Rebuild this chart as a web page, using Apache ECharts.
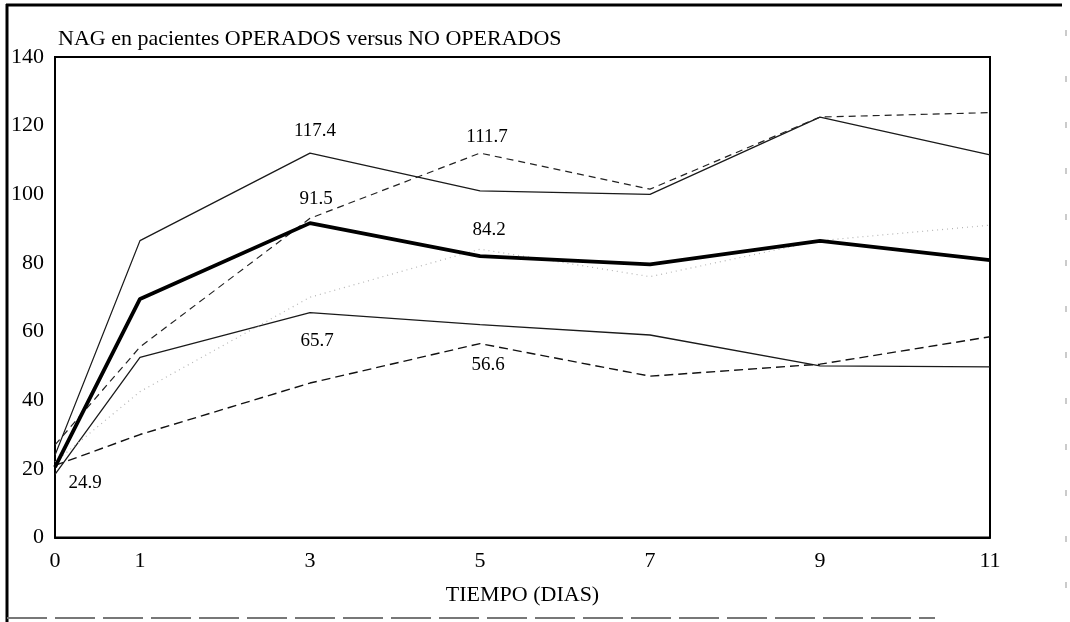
<!DOCTYPE html>
<html>
<head>
<meta charset="utf-8">
<script src="https://cdn.jsdelivr.net/npm/echarts@6/dist/echarts.min.js"></script>
<style>
html,body{margin:0;padding:0;background:#fff;}
#chart{width:1070px;height:622px;}
</style>
</head>
<body>
<div id="chart"></div>
<script>
// ---- data ----
var days = [0, 1, 3, 5, 7, 9, 11];
var xTickLabels = [0, 1, 3, 5, 7, 9, 11];
var yTickValues = [0, 20, 40, 60, 80, 100, 120, 140];
// OPERADOS
var opSup   = [24, 86.5, 112, 101, 100, 122.5, 111.5];
var opMedia = [20.5, 69.5, 91.6, 82, 79.6, 86.4, 80.8];
var opInf   = [18.4, 52.5, 65.5, 62, 59, 50, 49.7];
// NO OPERADOS
var noSup   = [27, 55.5, 93, 112, 101.5, 122.5, 123.8];
var noMedia = [22, 42.5, 70, 84, 76, 86.5, 91];
var noInf   = [21, 30, 45, 56.5, 47, 50.5, 58.5];
// annotation texts
var labelTexts = ['117.4', '111.7', '91.5', '84.2', '65.7', '56.6', '24.9'];

var titleText = 'NAG en pacientes OPERADOS versus NO OPERADOS';
var xName = 'TIEMPO (DIAS)';

// ---- chart ----
var FONT = "'Liberation Serif', 'DejaVu Serif', serif";
function pts(arr) { return days.map(function (d, i) { return [d, arr[i]]; }); }

// annotation anchors: [series array, day index, text index, offset]
var anchors = [
  [opSup, 2, 0, [5, -22]],
  [noSup, 3, 1, [7, -16]],
  [opMedia, 2, 2, [6, -24]],
  [opMedia, 3, 3, [9, -26]],
  [opInf, 2, 4, [7, 28]],
  [noInf, 3, 5, [8, 21]],
  [opInf, 0, 6, [30, 9]]
];
var annData = anchors.map(function (a) {
  return {
    value: [days[a[1]], a[0][a[1]]],
    label: { formatter: labelTexts[a[2]], offset: a[3] }
  };
});

var chart = echarts.init(document.getElementById('chart'), null, { renderer: 'canvas' });
var option = {
  backgroundColor: '#fff',
  animation: false,
  title: {
    text: titleText,
    left: 53, top: 23,
    textStyle: { fontFamily: FONT, fontSize: 22, fontWeight: 'normal', color: '#000' }
  },
  grid: { left: 55, right: 80, top: 57, bottom: 84.5, show: true, borderColor: '#000', borderWidth: 2 },
  xAxis: {
    type: 'value', min: 0, max: 11, interval: 1,
    name: xName, nameLocation: 'middle', nameGap: 47,
    nameTextStyle: { fontFamily: FONT, fontSize: 22, color: '#000' },
    axisLine: { show: true, lineStyle: { color: '#000', width: 2 } },
    axisTick: { show: false },
    splitLine: { show: false },
    axisLabel: {
      margin: 13, fontFamily: FONT, fontSize: 22, color: '#000',
      formatter: function (v) { return xTickLabels.indexOf(v) >= 0 ? String(v) : ''; }
    }
  },
  yAxis: {
    type: 'value', min: 0, max: 140, interval: 20,
    axisLine: { show: true, lineStyle: { color: '#000', width: 2 } },
    axisTick: { show: false },
    splitLine: { show: false },
    axisLabel: {
      margin: 11, fontFamily: FONT, fontSize: 22, color: '#000',
      formatter: function (v) { return yTickValues.indexOf(v) >= 0 ? String(v) : ''; }
    }
  },
  series: [
    { name: 'Operados +DE', type: 'line', data: pts(opSup), showSymbol: false,
      lineStyle: { color: '#1a1a1a', width: 1.3, type: 'solid' } },
    { name: 'Operados -DE', type: 'line', data: pts(opInf), showSymbol: false,
      lineStyle: { color: '#1a1a1a', width: 1.3, type: 'solid' } },
    { name: 'No operados +DE', type: 'line', data: pts(noSup), showSymbol: false,
      lineStyle: { color: '#222', width: 1.2, type: [7, 5] } },
    { name: 'No operados -DE', type: 'line', data: pts(noInf), showSymbol: false,
      lineStyle: { color: '#111', width: 1.4, type: [9, 5] } },
    { name: 'No operados media', type: 'line', data: pts(noMedia), showSymbol: false,
      lineStyle: { color: '#b5b5b5', width: 1.2, type: [1, 4] } },
    { name: 'Operados media', type: 'line', data: pts(opMedia), showSymbol: false,
      lineStyle: { color: '#000', width: 3.8, type: 'solid' } },
    { name: 'etiquetas', type: 'scatter', data: annData, symbolSize: 1,
      itemStyle: { color: 'rgba(0,0,0,0)', opacity: 1 }, silent: true, z: 10,
      label: { show: true, position: 'inside', fontFamily: FONT, fontSize: 19, color: '#000',
               textBorderWidth: 0, opacity: 1 } }
  ],
  graphic: [
    { type: 'line', shape: { x1: 6, y1: 5, x2: 1062, y2: 5 }, style: { stroke: '#000', lineWidth: 3 } },
    { type: 'line', shape: { x1: 7, y1: 4, x2: 7, y2: 622 }, style: { stroke: '#000', lineWidth: 3 } },
    { type: 'line', shape: { x1: 7, y1: 618, x2: 935, y2: 618 }, style: { stroke: '#777', lineWidth: 2, lineDash: [40, 8] } },
    { type: 'line', shape: { x1: 1066, y1: 30, x2: 1066, y2: 600 }, style: { stroke: '#bbb', lineWidth: 1.5, lineDash: [6, 40] } }
  ]
};
chart.setOption(option);
</script>
</body>
</html>
